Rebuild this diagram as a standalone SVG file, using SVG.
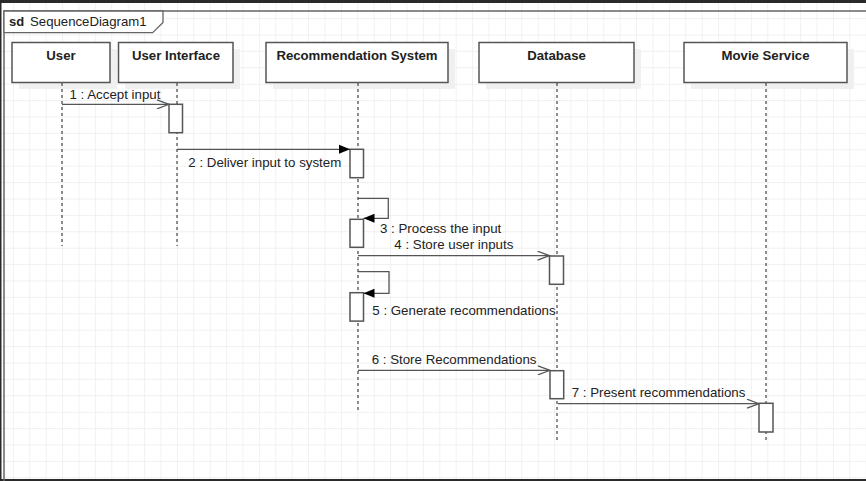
<svg xmlns="http://www.w3.org/2000/svg" width="866" height="481" viewBox="0 0 866 481">
<defs>
<pattern id="grid" x="12.9" y="1.7" width="16.4" height="16.4" patternUnits="userSpaceOnUse">
<path d="M0 0 H16.4 M0 0 V16.4" fill="none" stroke="#ebebeb" stroke-width="1.3"/>
</pattern>
<marker id="open" viewBox="0 0 14 10" refX="13" refY="5" markerWidth="14" markerHeight="10" markerUnits="userSpaceOnUse" orient="auto">
<path d="M1 0.5 L13 5 L1 9.5" fill="none" stroke="#555" stroke-width="1.3"/>
</marker>
<marker id="fill" viewBox="0 0 12 10" refX="11" refY="5" markerWidth="12" markerHeight="10" markerUnits="userSpaceOnUse" orient="auto">
<path d="M0 0.5 L11 5 L0 9.5 Z" fill="#000"/>
</marker>
</defs>
<style>
.head{fill:#fff;stroke:#555;stroke-width:1.5}
.shadow{fill:#f0f0f0}
.hl{font-family:"Liberation Sans",Arial,sans-serif;font-size:13.2px;font-weight:bold;fill:#222;text-anchor:middle}
.life{stroke:#444;stroke-width:1.2;stroke-dasharray:3 3;fill:none}
.act{fill:#fff;stroke:#555;stroke-width:1.5}
.msg{stroke:#555;stroke-width:1.3;fill:none}
.lbl{font-family:"Liberation Sans",Arial,sans-serif;font-size:13.3px;fill:#222}
</style>
<rect x="0" y="0" width="866" height="481" fill="#fff"/>
<rect x="0" y="0" width="866" height="481" fill="url(#grid)"/>
<rect x="0" y="0" width="866" height="3" fill="#2a2a2a"/>
<rect x="0" y="0" width="1.5" height="481" fill="#2a2a2a"/>
<rect x="0" y="479" width="866" height="2" fill="#2a2a2a"/>

<g id="frame">
<path d="M4 481 V11 H866" fill="none" stroke="#666" stroke-width="1.5"/>
<path d="M4 11 H163 V22.5 L152.7 32.7 H4 Z" fill="#fff" stroke="#666" stroke-width="1.3"/>
<text x="9" y="26" font-family="'Liberation Sans',Arial,sans-serif" font-size="13" font-weight="bold" fill="#222">sd</text>
<text x="30" y="26" font-family="'Liberation Sans',Arial,sans-serif" font-size="13.2" fill="#222">SequenceDiagram1</text>
</g>

<g id="user">
<rect class="shadow" x="19" y="49" width="98" height="40"/>
<rect class="head" x="12" y="42.5" width="98" height="40"/>
<text class="hl" x="61" y="60">User</text>
<line class="life" x1="62" y1="83" x2="62" y2="246"/>
</g>
<g id="user-interface">
<rect class="shadow" x="125" y="49" width="115" height="40"/>
<rect class="head" x="118.5" y="42.5" width="114.5" height="40"/>
<text class="hl" x="176" y="60">User Interface</text>
<line class="life" x1="177" y1="83" x2="177" y2="246"/>
<rect class="act" x="169" y="104.3" width="13.5" height="28.4"/>
</g>
<g id="recommendation-system">
<rect class="shadow" x="273" y="49" width="182" height="40"/>
<rect class="head" x="266" y="42.5" width="182" height="40"/>
<text class="hl" x="357" y="60">Recommendation System</text>
<line class="life" x1="358" y1="83" x2="358" y2="412"/>
<rect class="act" x="350" y="149.3" width="13.5" height="28.4"/>
<rect class="act" x="350" y="219.3" width="13.5" height="28"/>
<rect class="act" x="350" y="292.7" width="13.5" height="28.4"/>
</g>
<g id="database">
<rect class="shadow" x="486" y="49" width="155" height="40"/>
<rect class="head" x="479" y="42.5" width="155" height="40"/>
<text class="hl" x="556.5" y="60">Database</text>
<line class="life" x1="557" y1="83" x2="557" y2="443"/>
<rect class="act" x="549.5" y="256" width="14" height="28.3"/>
<rect class="act" x="550" y="370.7" width="13.7" height="28"/>
</g>
<g id="movie-service">
<rect class="shadow" x="691" y="49" width="163" height="40"/>
<rect class="head" x="684" y="42.5" width="163" height="40"/>
<text class="hl" x="765.5" y="60">Movie Service</text>
<line class="life" x1="766" y1="83" x2="766" y2="443"/>
<rect class="act" x="759" y="403.3" width="14" height="28.7"/>
</g>

<g id="connectors">
<line class="msg" x1="62" y1="104.3" x2="169" y2="104.3" marker-end="url(#open)"/>
<text class="lbl" x="69.5" y="98.5">1 : Accept input</text>
<line class="msg" x1="177" y1="149.3" x2="350" y2="149.3" marker-end="url(#fill)"/>
<text class="lbl" x="188.3" y="166.5">2 : Deliver input to system</text>
<path class="msg" d="M358 198.3 H388.3 V218.3 H363.5" marker-end="url(#fill)"/>
<text class="lbl" x="380" y="233">3 : Process the input</text>
<line class="msg" x1="358" y1="255.7" x2="549.5" y2="255.7" marker-end="url(#open)"/>
<text class="lbl" x="394.3" y="249">4 : Store user inputs</text>
<path class="msg" d="M358 271.7 H389 V293.3 H363.5" marker-end="url(#fill)"/>
<text class="lbl" x="372.3" y="315">5 : Generate recommendations</text>
<line class="msg" x1="358" y1="370.3" x2="550" y2="370.3" marker-end="url(#open)"/>
<text class="lbl" x="371.7" y="364">6 : Store Recommendations</text>
<line class="msg" x1="558" y1="403.7" x2="759" y2="403.7" marker-end="url(#open)"/>
<text class="lbl" x="571.7" y="397">7 : Present recommendations</text>
</g>
</svg>
